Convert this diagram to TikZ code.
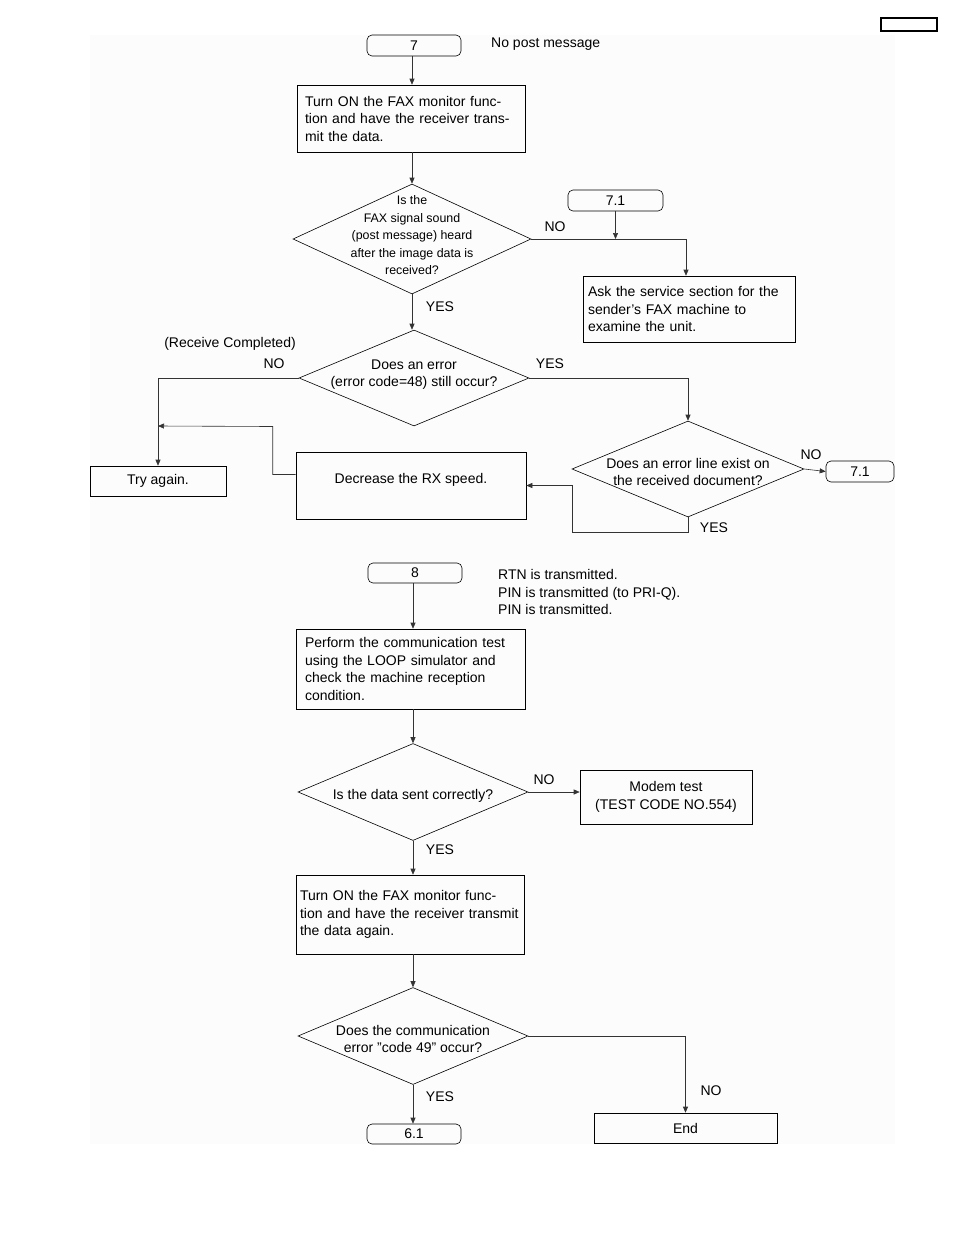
\documentclass[tikz,border=0pt]{standalone}
\usepackage{fontspec}
\setmainfont{Liberation Sans}
\usetikzlibrary{shapes.geometric,arrows.meta}

\newcommand{\dtext}[2][0pt]{\smash{\makebox[0pt]{\raisebox{#1}{\begin{tabular}{@{}c@{}}#2\end{tabular}}}}}

\begin{document}
\begin{tikzpicture}[x=1pt,y=-1pt]
\tikzstyle{every node}+=[inner sep=0pt,font=\fontsize{14}{17.5}\selectfont]
\tikzstyle{box}=[draw,line width=0.6pt,rectangle]
\tikzstyle{term}=[draw,line width=0.6pt,rectangle,rounded corners=5pt]
\tikzstyle{dia}=[draw,line width=0.6pt,diamond]
\tikzstyle{arr}=[line width=0.6pt,draw=black!80,-{Triangle[length=6pt,width=5pt]}]
\useasboundingbox (0,0) rectangle (954,1235);
\fill[black!1] (90,35) rectangle (895,1144);
\node[draw,line width=1.3pt,minimum width=56pt,minimum height=13pt] (pg) at (909,24.5) {};
% part 7
\node[term,minimum width=94pt,minimum height=21pt] (c7) at (414,45.5) {7};
\node[anchor=west] (nopost) at (491,44) {No post message};
\node[box,minimum height=67pt,text width=212pt,inner xsep=8pt,align=left] (mon1) at (411,118.5)
  {Turn ON the FAX monitor func-\\tion and have the receiver trans-\\mit the data.};
\node[dia,minimum width=238pt,minimum height=110pt] (d1) at (412,239)
  {\fontsize{12.4}{17.5}\selectfont\dtext{Is the\\FAX signal sound\\(post message) heard\\after the image data is\\received?}};
\node[term,minimum width=95pt,minimum height=21pt] (c71a) at (615.5,200.5) {7.1};
\node[box,minimum height=66pt,text width=202pt,inner xsep=5pt,align=left] (ask) at (689,309)
  {Ask the service section for the\\sender's FAX machine to\\examine the unit.};
\node[dia,minimum width=230pt,minimum height=96pt] (d2) at (414,378)
  {\dtext{Does an error\\(error code=48) still occur?}};
\node (recv) at (230,344) {(Receive Completed)};
\node[dia,minimum width=232pt,minimum height=96pt] (d3) at (688,469)
  {\dtext[-8pt]{Does an error line exist on\\the received document?}};
\node[term,minimum width=68pt,minimum height=21pt] (c71b) at (860,471.5) {7.1};
\node[box,minimum width=230pt,minimum height=67pt,text depth=15pt] (rx) at (411,485.5) {Decrease the RX speed.};
\node[box,minimum width=136pt,minimum height=30pt] (try) at (158,481) {Try again.};
\node (no1) at (555,227) {NO};
\node (yes1) at (440,307) {YES};
\node (no2) at (274,364) {NO};
\node (yes2) at (550,364) {YES};
\node (no3) at (811,455) {NO};
\node (yes3) at (714,528) {YES};
\draw[arr] (c7.south -| d1.north) -- (mon1.north -| d1.north);
\draw[arr] (mon1.south -| d1.north) -- (d1.north);
\draw[arr] (d1.east) -| ([xshift=-3pt]ask.north);
\draw[arr] (c71a.south) -- (c71a.south |- d1.east);
\draw[arr] (d1.south) -- (d1.south |- d2.north);
\draw[arr] (d2.west) -| (try.north);
\draw[arr] (d2.east) -| (d3.north);
\draw[arr] (d3.east) -- (c71b.west);
\draw[arr] (d3.south) -- ++(0,15) -- ++(-116,0) |- (rx.east);
\draw[arr] ([yshift=11pt]rx.west) -- ++(-23,0) -- ++(0,-48) -- (try.north |- 0,426);
% part 8
\node[term,minimum width=94pt,minimum height=20pt] (c8) at (415,573) {8};
\node[anchor=west,align=left] (rtn) at (498,592)
  {RTN is transmitted.\\PIN is transmitted (to PRI-Q).\\PIN is transmitted.};
\node[box,minimum height=80pt,text width=211pt,inner xsep=9pt,align=left] (loop) at (410.5,669)
  {Perform the communication test\\using the LOOP simulator and\\check the machine reception\\condition.};
\node[dia,minimum width=230pt,minimum height=97pt] (d4) at (413,792)
  {\dtext[-8pt]{Is the data sent correctly?}};
\node[box,minimum width=172pt,minimum height=54pt,align=center] (modem) at (666,797)
  {Modem test\\(TEST CODE NO.554)};
\node[box,minimum height=79pt,text width=220pt,inner xsep=4pt,align=left] (mon2) at (410,914.5)
  {Turn ON the FAX monitor func-\\tion and have the receiver transmit\\the data again.};
\node[dia,minimum width=230pt,minimum height=97pt] (d5) at (413,1036)
  {\dtext[-8pt]{Does the communication\\error "code 49" occur?}};
\node[term,minimum width=94pt,minimum height=20pt] (c61) at (414,1134) {6.1};
\node[box,minimum width=183pt,minimum height=30pt] (end) at (685.5,1128) {End};
\node (no4) at (544,780) {NO};
\node (yes4) at (440,850) {YES};
\node (yes5) at (440,1097) {YES};
\node (no5) at (711,1091) {NO};
\draw[arr] (c8.south -| d4.north) -- (loop.north -| d4.north);
\draw[arr] (loop.south -| d4.north) -- (d4.north);
\draw[arr] (d4.east) -- (d4.east -| modem.west);
\draw[arr] (d4.south) -- (mon2.north -| d4.south);
\draw[arr] (mon2.south -| d5.north) -- (d5.north);
\draw[arr] (d5.south) -- (c61.north -| d5.south);
\draw[arr] (d5.east) -| (end.north);
\end{tikzpicture}
\end{document}
